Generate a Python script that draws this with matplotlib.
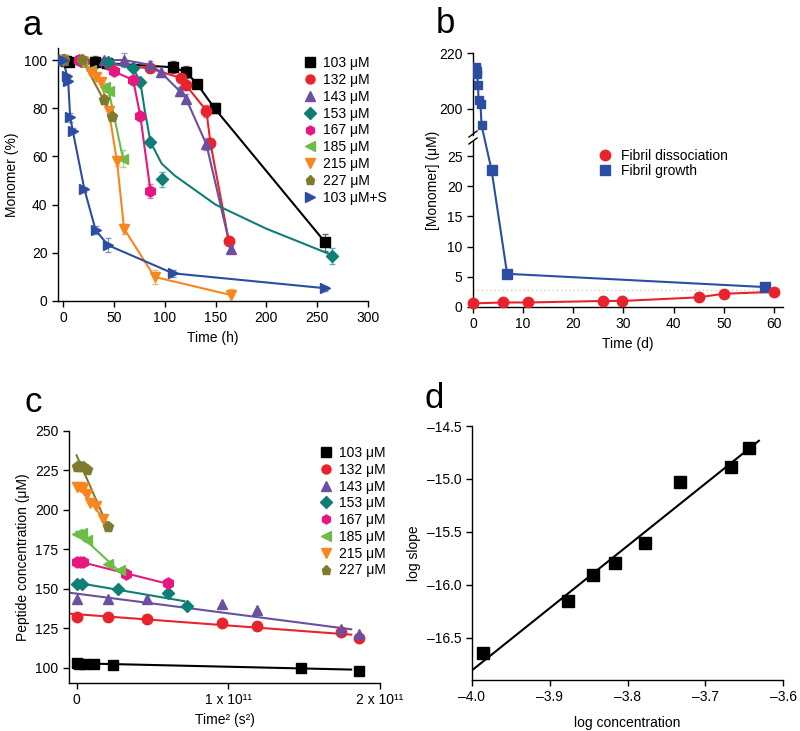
import numpy as np
import matplotlib
matplotlib.use("Agg")
import matplotlib.pyplot as plt
from matplotlib.patches import ConnectionPatch
from matplotlib.lines import Line2D

plt.rcParams['font.family'] = ['Liberation Sans', 'DejaVu Sans']
plt.rcParams['font.size'] = 10
plt.rcParams['axes.linewidth'] = 1.0
plt.rcParams['xtick.major.width'] = 1.0
plt.rcParams['ytick.major.width'] = 1.0
plt.rcParams['xtick.major.size'] = 4
plt.rcParams['ytick.major.size'] = 4

FS = 10

# ---------------- Panel a data ----------------
labels_a = ["103 μM", "132 μM", "143 μM", "153 μM", "167 μM", "185 μM", "215 μM", "227 μM", "103 μM+S"]
colors = ["#000000", "#e8232b", "#6b4fa1", "#0d7f77", "#e8177f", "#6cbd47", "#f7861f", "#7e7b2f", "#2b4da2"]
markers = ["s", "o", "^", "D", "h", "<", "v", "p", ">"]
msizes = [7, 7.5, 7.5, 6.5, 8, 7.5, 7.5, 8, 7.5]

t_103 = [0, 3, 6, 31, 43, 108, 121, 132, 149, 258]
v_103 = [100, 99.5, 99.3, 99, 98.7, 97, 95, 90, 80, 24.3]
e_103 = [1, 1, 1, 2.5, 1.5, 2.5, 2.5, 1, 2, 3.5]

t_132 = [0, 16, 20, 45, 86, 116, 121, 141, 145, 163]
v_132 = [100, 100, 99.5, 98.5, 96.5, 92.5, 89.5, 79, 65.5, 25]
e_132 = [1, 1, 1, 1, 1.5, 1.5, 1.5, 2.5, 2, 1.5]

t_143 = [0, 40, 60, 86, 96, 115, 121, 141, 165]
v_143 = [100, 100, 100, 98, 95, 87, 84, 65, 21.5]
e_143 = [1, 1, 3, 1.5, 2, 2, 2, 2.5, 1.5]

t_153 = [0, 18, 44, 69, 76, 86, 97, 265]
v_153 = [100, 99.5, 99, 96.5, 91, 66, 50.5, 18.7]
e_153 = [1, 1, 1, 1, 1, 1.5, 3, 3.5]
fit_t_153 = [0, 40, 69, 76, 80, 86, 97, 110, 150, 200, 265]
fit_v_153 = [100, 99.5, 96.5, 91, 80, 66, 57, 52, 40, 30, 19]

t_167 = [16, 20, 50, 69, 76, 86]
v_167 = [100, 99.5, 95.3, 91.7, 76.8, 45.6]
e_167 = [1, 1, 1.5, 1.5, 1.5, 3]

t_185 = [19, 27, 41, 45, 59]
v_185 = [99.5, 96, 89, 87, 59]
e_185 = [1, 1, 1.5, 1.5, 3.5]

t_215 = [0, 20, 27, 32, 37, 45, 53, 60, 90, 165]
v_215 = [100, 99, 95, 93, 91, 79, 58, 30, 10, 2.5]
e_215 = [1, 1, 1, 1, 1, 1.5, 2, 2, 3, 2.5]

t_227 = [1, 19, 40, 48]
v_227 = [100, 100, 83.4, 76.5]
e_227 = [1, 1, 1.5, 1.5]

t_103S = [0, 4, 5, 7, 9.5, 21, 32, 44, 108, 258]
v_103S = [100, 93.4, 91.4, 76.2, 70.7, 46.3, 29.5, 23.2, 11.5, 5.3]
e_103S = [1, 1, 1, 2, 1, 1, 1.5, 3, 1.5, 1]

series_a = [
    (t_103, v_103, e_103, None, None),
    (t_132, v_132, e_132, None, None),
    (t_143, v_143, e_143, None, None),
    (t_153, v_153, e_153, fit_t_153, fit_v_153),
    (t_167, v_167, e_167, None, None),
    (t_185, v_185, e_185, None, None),
    (t_215, v_215, e_215, None, None),
    (t_227, v_227, e_227, None, None),
    (t_103S, v_103S, e_103S, None, None),
]
xticks_a = [0, 50, 100, 150, 200, 250, 300]
yticks_a = [0, 20, 40, 60, 80, 100]

# ---------------- Panel b data ----------------
diss_t = [0, 6, 11, 26, 29.7, 45, 50, 60]
diss_v = [0.6, 0.75, 0.75, 1.0, 1.0, 1.6, 2.2, 2.5]
grow_t_hi = [0.5, 0.6, 0.7, 0.8, 1.0, 1.1, 1.5, 1.7]
grow_v_hi = [215, 214.5, 213.5, 212.5, 208.5, 203, 201.5, 194]
grow_t_lo = [3.7, 6.8, 58.3]
grow_v_lo = [22.7, 5.5, 3.3]
plateau_b = 2.85
xticks_b = [0, 10, 20, 30, 40, 50, 60]

# ---------------- Panel c data (x in units of 1e11 s^2) ----------------
labels_c = ["103 μM", "132 μM", "143 μM", "153 μM", "167 μM", "185 μM", "215 μM", "227 μM"]
c_x_103 = [0, 0.015, 0.055, 0.116, 0.237, 1.48, 1.86]
c_v_103 = [103.2, 102.8, 102.5, 102.5, 101.7, 100.0, 98.0]
c_fit_103 = ([0, 1.81], [103.0, 99.0])
c_x_132 = [0, 0.204, 0.466, 0.956, 1.19, 1.74, 1.86]
c_v_132 = [132.3, 132.3, 131.0, 128.5, 126.4, 122.6, 119.0]
c_fit_132 = ([-0.05, 1.81], [134.4, 121.1])
c_x_143 = [0, 0.204, 0.466, 0.956, 1.19, 1.74, 1.86]
c_v_143 = [143.7, 143.7, 143.7, 140.8, 136.5, 124.7, 121.8]
c_fit_143 = ([-0.05, 1.81], [147.7, 124.5])
c_x_153 = [0, 0.033, 0.27, 0.6, 0.73]
c_v_153 = [153.2, 153.2, 150.3, 147.5, 139.0]
c_fit_153 = ([0, 0.71], [154.0, 142.3])
c_x_167 = [0, 0.02, 0.04, 0.325, 0.6]
c_v_167 = [167.4, 167.4, 167.4, 159.6, 153.5]
c_fit_167 = ([0, 0.6], [167.8, 153.3])
c_x_185 = [0, 0.033, 0.07, 0.204, 0.286]
c_v_185 = [185.1, 185.5, 181.3, 166.0, 162.3]
c_fit_185 = ([0, 0.3], [186.3, 159.5])
c_x_215 = [0, 0.02, 0.044, 0.07, 0.088, 0.13, 0.176]
c_v_215 = [214.7, 214.5, 214.0, 210.0, 204.6, 202.5, 194.0]
c_fit_215 = ([0, 0.19], [216.0, 193.0])
c_x_227 = [0, 0.02, 0.045, 0.07, 0.204]
c_v_227 = [227.5, 227.5, 227.0, 225.5, 189.5]
c_fit_227 = ([0, 0.206], [234.6, 189.5])
series_c = [
    (c_x_103, c_v_103, c_fit_103), (c_x_132, c_v_132, c_fit_132),
    (c_x_143, c_v_143, c_fit_143), (c_x_153, c_v_153, c_fit_153),
    (c_x_167, c_v_167, c_fit_167), (c_x_185, c_v_185, c_fit_185),
    (c_x_215, c_v_215, c_fit_215), (c_x_227, c_v_227, c_fit_227),
]
yticks_c = [100, 125, 150, 175, 200, 225, 250]
xticks_c = [0, 1, 2]
xticklabels_c = ["0", "1 x 10¹¹", "2 x 10¹¹"]

# ---------------- Panel d data ----------------
log_conc = [-3.986, -3.877, -3.844, -3.816, -3.777, -3.733, -3.667, -3.644]
log_slope = [-16.642, -16.156, -15.91, -15.793, -15.61, -15.033, -14.885, -14.705]
xticks_d = [-4.0, -3.9, -3.8, -3.7, -3.6]
yticks_d = [-16.5, -16.0, -15.5, -15.0, -14.5]

W, H = 800, 731
fig = plt.figure(figsize=(8, 7.31), dpi=100)

def rect(l, t, r, b):
    return [l / W, 1 - b / H, (r - l) / W, (b - t) / H]

def style(ax):
    for s in ['top', 'right']:
        ax.spines[s].set_visible(False)
    ax.tick_params(direction='out', labelsize=FS)

# ---------------- Panel a ----------------
axa = fig.add_axes(rect(58, 48, 368, 301))
style(axa)
for (t, v, e, ft, fv), c, m, ms in zip(series_a, colors, markers, msizes):
    if ft is not None:
        axa.plot(ft, fv, '-', color=c, lw=1.5, zorder=2)
    else:
        axa.plot(t, v, '-', color=c, lw=1.5, zorder=2)
    axa.errorbar(t, v, yerr=e, fmt='none', ecolor=c, elinewidth=0.8, capsize=2, alpha=0.6, zorder=2)
    axa.plot(t, v, linestyle='none', marker=m, color=c, markersize=ms, zorder=3)
axa.set_xlim(-5, 300)
axa.set_ylim(0, 105)
axa.set_xticks(xticks_a)
axa.set_yticks(yticks_a)
axa.set_xlabel("Time (h)", fontsize=FS, labelpad=4)
axa.set_ylabel("Monomer (%)", fontsize=FS)
handles_a = [Line2D([], [], linestyle='none', marker=m, color=c, markersize=6.5) for c, m in zip(colors, markers)]
axa.legend(handles_a, labels_a, loc='upper left', bbox_to_anchor=(0.76, 1.0), frameon=False,
           fontsize=FS, handletextpad=0.3, labelspacing=0.2, borderaxespad=0.2, handlelength=1.2)
fig.text(23 / W, 1 - 35 / H, "a", fontsize=25)

# ---------------- Panel b ----------------
axb_hi = fig.add_axes(rect(473, 53, 783, 135))
axb_lo = fig.add_axes(rect(473, 141, 783, 307))
for ax in (axb_hi, axb_lo):
    style(ax)
    ax.set_xlim(0, 61.8)
axb_hi.spines['bottom'].set_visible(False)
axb_hi.tick_params(axis='x', bottom=False, labelbottom=False)
axb_hi.set_ylim(190.5, 220)
axb_hi.set_yticks([200, 220])
axb_lo.set_ylim(0, 27.5)
axb_lo.set_yticks([0, 5, 10, 15, 20, 25])
axb_lo.set_xticks(xticks_b)

blue_b = "#2b4da2"
red_b = "#e8232b"
axb_lo.plot([0, 60], [plateau_b, plateau_b], linestyle=(0, (1, 2)), color="#d9cdb0", lw=1.0, zorder=1)
axb_hi.plot(grow_t_hi, grow_v_hi, '-', color=blue_b, lw=1.5, zorder=2)
axb_hi.plot(grow_t_hi, grow_v_hi, 's', color=blue_b, markersize=6, zorder=3)
axb_lo.plot(grow_t_lo, grow_v_lo, '-', color=blue_b, lw=1.5, zorder=2)
axb_lo.plot(grow_t_lo, grow_v_lo, 's', color=blue_b, markersize=6.5, zorder=3)
axb_lo.plot(diss_t, diss_v, '-', color=red_b, lw=1.5, zorder=2)
axb_lo.plot(diss_t, diss_v, 'o', color=red_b, markersize=7.5, zorder=3, clip_on=False)
con = ConnectionPatch(xyA=(grow_t_hi[-1], grow_v_hi[-1]), coordsA=axb_hi.transData,
                      xyB=(grow_t_lo[0], grow_v_lo[0]), coordsB=axb_lo.transData,
                      color=blue_b, lw=1.5, zorder=2)
fig.add_artist(con)
# break marks
for yb in (1 - 134 / H, 1 - 141 / H):
    fig.add_artist(Line2D([469 / W, 477 / W], [yb - 3 / H, yb + 3 / H], color='black', lw=1.0))
axb_lo.set_xlabel("Time (d)", fontsize=FS, labelpad=4)
fig.text(433 / W, 1 - 180 / H, "[Monomer] (μM)", rotation=90, ha='center', va='center', fontsize=FS)
handles_b = [Line2D([], [], linestyle='none', marker='o', color=red_b, markersize=7.5),
             Line2D([], [], linestyle='none', marker='s', color=blue_b, markersize=6.5)]
axb_lo.legend(handles_b, ["Fibril dissociation", "Fibril growth"], loc='upper left',
              bbox_to_anchor=(0.36, 1.03), frameon=False, fontsize=FS,
              handletextpad=0.5, labelspacing=0.1, handlelength=1.2)
fig.text(436 / W, 1 - 33 / H, "b", fontsize=25)

# ---------------- Panel c ----------------
axc = fig.add_axes(rect(69, 431, 380, 683))
style(axc)
for (x, v, fit), c, m, ms in zip(series_c, colors, markers, msizes):
    axc.plot(fit[0], fit[1], '-', color=c, lw=1.5, zorder=2)
    axc.plot(x, v, linestyle='none', marker=m, color=c, markersize=ms, zorder=3, clip_on=False)
axc.set_xlim(-0.05, 2.0)
axc.set_ylim(90.5, 250)
axc.set_yticks(yticks_c)
axc.set_xticks(xticks_c)
axc.set_xticklabels(xticklabels_c)
axc.set_xlabel("Time² (s²)", fontsize=FS, labelpad=4)
axc.set_ylabel("Peptide concentration (μM)", fontsize=FS)
handles_c = [Line2D([], [], linestyle='none', marker=m, color=c, markersize=6.5) for c, m in zip(colors[:8], markers[:8])]
axc.legend(handles_c, labels_c, loc='upper left', bbox_to_anchor=(0.76, 0.99), frameon=False,
           fontsize=FS, handletextpad=0.3, labelspacing=0.2, handlelength=1.2)
fig.text(25 / W, 1 - 412 / H, "c", fontsize=25)

# ---------------- Panel d ----------------
axd = fig.add_axes(rect(472, 426, 783, 680))
style(axd)
coef = np.polyfit(log_conc, log_slope, 1)
xf = np.array([-4.0, -3.631])
axd.plot(xf, np.polyval(coef, xf), '-', color='black', lw=1.5, zorder=2)
axd.plot(log_conc, log_slope, 's', color='black', markersize=8, zorder=3)
axd.set_xlim(-4.0, -3.6)
axd.set_ylim(-16.9, -14.5)
axd.set_xticks(xticks_d)
axd.set_xticklabels([f"{v:.1f}".replace("-", "\u2013") for v in xticks_d])
axd.set_yticks(yticks_d)
axd.set_yticklabels([f"{v:.1f}".replace("-", "\u2013") for v in yticks_d])
axd.set_xlabel("log concentration", fontsize=FS, labelpad=8)
axd.set_ylabel("log slope", fontsize=FS)
fig.text(424 / W, 1 - 408 / H, "d", fontsize=25)

fig.savefig("out.png", dpi=100)
